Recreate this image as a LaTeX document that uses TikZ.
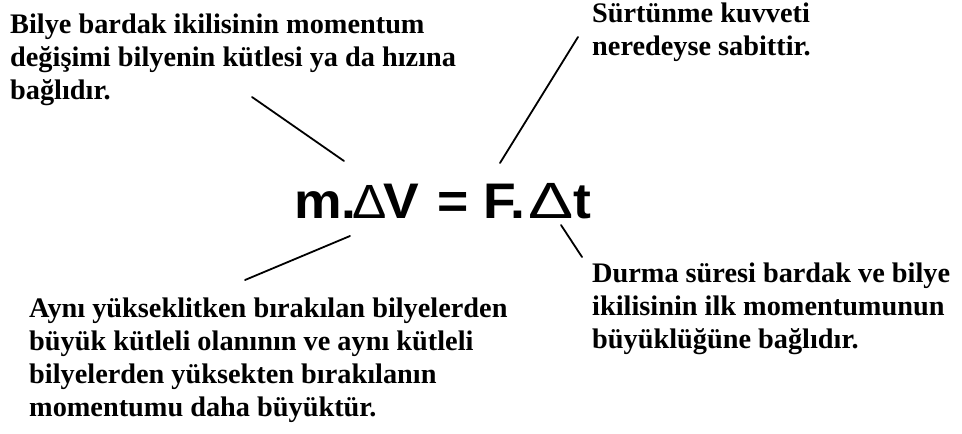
\documentclass[tikz,border=0pt]{standalone}
\usepackage{graphicx}
\usepackage{fontspec}
\setmainfont{Liberation Serif}
\newfontfamily\eqfont{Liberation Sans}
\newcommand\txtlines[1]{\vtop{#1}}
\begin{document}
\begin{tikzpicture}[x=1pt,y=-1pt,
  txt/.style={anchor=base west, inner sep=0pt, font=\bfseries\fontsize{28.3}{33}\selectfont},
  conn/.style={line width=1.8pt, line cap=round}]
\useasboundingbox (0,0) rectangle (962,434);
\fill[white] (0,0) rectangle (962,434);
% texts
\node[txt] (t1) at (10,33) {\txtlines{\hbox{Bilye bardak ikilisinin momentum}\hbox{değişimi bilyenin kütlesi ya da hızına}\hbox{bağlıdır.}}};
\node[txt] (t2) at (592,22) {\txtlines{\hbox{Sürtünme kuvveti}\hbox{neredeyse sabittir.}}};
\node[txt] (t3) at (29,317) {\txtlines{\hbox{Aynı yükseklitken bırakılan bilyelerden}\hbox{büyük kütleli olanının ve aynı kütleli}\hbox{bilyelerden yüksekten bırakılanın}\hbox{momentumu daha büyüktür.}}};
\node[txt] (t4) at (592,282) {\txtlines{\hbox{Durma süresi bardak ve bilye}\hbox{ikilisinin ilk momentumunun}\hbox{büyüklüğüne bağlıdır.}}};
% equation
\node[anchor=base west, inner sep=0pt] (eq) at (294,218) {\eqfont\bfseries\fontsize{50}{50}\selectfont\scalebox{1.07}[1]{m.\kern-3.5pt{\mdseries\fontsize{48}{48}\selectfont Δ}\kern-3.5pt V\kern3pt{} = F.\kern3pt{\mdseries\fontsize{51}{51}\selectfont\scalebox{1.24}[1]{Δ}}\kern0pt t}};
% connector ends
\coordinate (a1) at (252,97);  \coordinate (a2) at (344,161);
\coordinate (b1) at (578,37);  \coordinate (b2) at (500,163);
\coordinate (c1) at (350,236); \coordinate (c2) at (245,280);
\coordinate (d1) at (561,225); \coordinate (d2) at (582,257);
\draw[conn] (a1) -- (a2);
\draw[conn] (b1) -- (b2);
\draw[conn] (c1) -- (c2);
\draw[conn] (d1) -- (d2);
\end{tikzpicture}
\end{document}
